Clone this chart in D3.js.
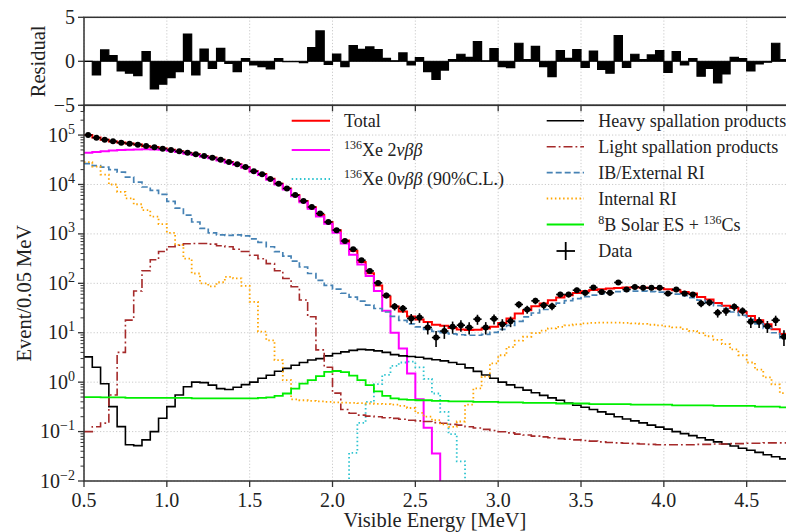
<!DOCTYPE html>
<html><head><meta charset="utf-8">
<script src="https://cdn.jsdelivr.net/npm/d3@7"></script>
<style>
body{margin:0;background:#fff}
svg{display:block}
text{font-family:"Liberation Serif","Times New Roman","DejaVu Serif",serif;fill:#222}
</style></head>
<body><svg id="c" width="786" height="532"></svg>
<script>
// ---------------- data (0.05 MeV bins starting at 0.5 MeV) ----------------
const binStart = 0.5, binWidth = 0.05, nBins = 85;
const xTicks = [0.5, 1.0, 1.5, 2.0, 2.5, 3.0, 3.5, 4.0, 4.5];
const yDecades = [-2, -1, 0, 1, 2, 3, 4, 5];
const resTicks = [-5, 0, 5];

const dataCounts = [100000, 88500, 80700, 74600, 70100, 67000, 64000, 60000, 56400, 53100,
 49800, 46800, 44100, 40700, 37700, 34900, 31800, 28400, 25600, 22500,
 18500, 16100, 12900, 10400, 8300, 6100, 4630, 3510, 2580, 1740,
 1190, 720, 490, 293, 178, 102, 57, 34, 31, 19.5,
 20.4, 12.8, 8.0, 10.8, 13.2, 14.2, 12.8, 18.8, 12.8, 19.1,
 14.9, 17.1, 37.3, 29.6, 44.2, 36.1, 34.4, 59.4, 59.4, 72.6,
 64.1, 82.2, 67.1, 64.1, 104, 75.0, 84.7, 80.9, 80.9, 80.9,
 62.4, 75.0, 62.4, 59.4, 39.1, 40.9, 25.3, 27.4, 33.4, 27.4,
 16.6, 16.6, 13.6, 17.9, 8.3];

const total = [100000, 89500, 80300, 74400, 70400, 67400, 64400, 59700, 57100, 53700,
 50200, 47000, 43400, 41000, 37400, 35100, 31500, 28500, 25800, 22400,
 18600, 16200, 13000, 10400, 8300, 6100, 4640, 3450, 2420, 1750,
 1180, 735, 455, 270, 160, 90, 54, 34, 27, 21.4,
 18.6, 16.5, 14.5, 13.8, 12.5, 11.6, 11.3, 11.5, 12.2, 13.2,
 15.8, 19.5, 24.5, 28.6, 34.4, 39.1, 45.6, 51.6, 57.5, 64.0,
 69.2, 73.6, 76.0, 78.5, 80.7, 82.2, 82.2, 82.2, 80.7, 79.6,
 76.0, 72.6, 67.1, 62.2, 53.0, 47.0, 40.0, 35.0, 31.8, 26.4,
 21.9, 17.9, 14.9, 11.8, 9.4];

const xe2nu = [44100, 45500, 47000, 48500, 49700, 50700, 51300, 51500, 51300, 50500,
 48200, 45300, 42000, 39600, 36200, 34000, 30500, 27600, 25000, 21700,
 18000, 15600, 12500, 9950, 7900, 5780, 4370, 3220, 2240, 1600,
 1060, 640, 380, 240, 140, 70, 28, 10, 4.8, 1.5,
 0.45, 0.12, 0.036, 0, 0, 0, 0, 0, 0, 0,
 0, 0, 0, 0, 0, 0, 0, 0, 0, 0,
 0, 0, 0, 0, 0, 0, 0, 0, 0, 0,
 0, 0, 0, 0, 0, 0, 0, 0, 0, 0,
 0, 0, 0, 0, 0];

const xe0nu = [0, 0, 0, 0, 0, 0, 0, 0, 0, 0,
 0, 0, 0, 0, 0, 0, 0, 0, 0, 0,
 0, 0, 0, 0, 0, 0, 0, 0, 0, 0,
 0, 0, 0.037, 0.15, 0.40, 0.91, 1.41, 2.14, 2.5, 2.6,
 2.0, 1.17, 0.59, 0.25, 0.089, 0.025, 0, 0, 0, 0,
 0, 0, 0, 0, 0, 0, 0, 0, 0, 0,
 0, 0, 0, 0, 0, 0, 0, 0, 0, 0,
 0, 0, 0, 0, 0, 0, 0, 0, 0, 0,
 0, 0, 0, 0, 0];

const heavySpall = [3.25, 2.0, 0.93, 0.32, 0.126, 0.054, 0.052, 0.068, 0.10, 0.186,
 0.32, 0.55, 0.81, 1.0, 0.98, 0.87, 0.74, 0.71, 0.79, 0.89,
 1.0, 1.2, 1.38, 1.66, 1.9, 2.2, 2.5, 2.8, 3.0, 3.4,
 3.8, 4.1, 4.4, 4.6, 4.5, 4.3, 4.0, 3.6, 3.4, 3.3,
 3.2, 3.0, 2.85, 2.7, 2.5, 2.3, 1.95, 1.65, 1.4, 1.2,
 1.0, 0.88, 0.78, 0.69, 0.61, 0.54, 0.48, 0.43, 0.38, 0.34,
 0.31, 0.28, 0.25, 0.225, 0.20, 0.18, 0.165, 0.15, 0.135, 0.123,
 0.112, 0.10, 0.091, 0.083, 0.075, 0.068, 0.062, 0.056, 0.051, 0.046,
 0.042, 0.038, 0.034, 0.031, 0.028];

const lightSpall = [0.10, 0.125, 0.148, 0.55, 4.0, 18, 70, 180, 300, 440,
 550, 590, 630, 640, 640, 620, 575, 550, 490, 440,
 370, 315, 250, 180, 125, 85, 46, 21, 4.5, 2.0,
 0.6, 0.28, 0.235, 0.215, 0.205, 0.20, 0.19, 0.185, 0.177, 0.17,
 0.165, 0.16, 0.152, 0.147, 0.14, 0.135, 0.125, 0.118, 0.111, 0.105,
 0.099, 0.094, 0.089, 0.085, 0.081, 0.078, 0.075, 0.072, 0.070, 0.068,
 0.066, 0.064, 0.062, 0.060, 0.059, 0.058, 0.057, 0.056, 0.055, 0.054,
 0.054, 0.054, 0.054, 0.054, 0.055, 0.055, 0.056, 0.056, 0.057, 0.057,
 0.058, 0.058, 0.059, 0.059, 0.059];

const ibExternal = [26300, 24000, 22400, 20000, 17800, 14100, 11200, 8900, 7600, 6300,
 4570, 3310, 2400, 1740, 1290, 1050, 955, 933, 955, 912,
 794, 676, 550, 437, 355, 282, 214, 158, 115, 91,
 76, 63, 52.5, 43.7, 36.3, 30.9, 26.3, 21.4, 17.8, 15.1,
 13.2, 11.7, 10.7, 10.0, 9.5, 9.1, 8.9, 8.9, 9.3, 10.2,
 11.7, 14.1, 17.0, 20.9, 25.1, 29.5, 34.7, 39.8, 44.7, 49.0,
 53.7, 57.5, 61.7, 64.6, 67.6, 69.2, 69.2, 69.2, 67.6, 66.1,
 63.1, 60.3, 56.2, 51.3, 45.7, 40.7, 35.5, 30.9, 26.3, 22.4,
 18.6, 15.1, 12.3, 10.0, 7.9];

const internalRI = [28200, 22900, 15800, 10000, 7080, 5250, 3980, 3020, 2240, 1580,
 1050, 600, 316, 158, 100, 87, 105, 135, 126, 89,
 42, 10.5, 7.0, 2.8, 1.1, 0.45, 0.43, 0.42, 0.41, 0.40,
 0.39, 0.385, 0.38, 0.375, 0.37, 0.365, 0.36, 0.35, 0.33, 0.30,
 0.24, 0.20, 0.17, 0.14, 0.125, 0.16, 0.35, 0.75, 1.3, 2.4,
 3.5, 5.1, 6.9, 8.3, 9.8, 11.0, 12.3, 13.2, 14.1, 14.8,
 15.5, 15.8, 16.0, 16.0, 16.0, 15.8, 15.5, 15.1, 14.5, 14.1,
 13.5, 12.8, 11.8, 10.9, 9.8, 8.5, 7.2, 5.9, 4.6, 3.5,
 2.5, 1.8, 1.25, 0.9, 0.6];

const b8Solar = [0.50, 0.50, 0.49, 0.49, 0.49, 0.48, 0.48, 0.48, 0.48, 0.48,
 0.48, 0.48, 0.48, 0.47, 0.47, 0.47, 0.47, 0.47, 0.47, 0.47,
 0.47, 0.48, 0.49, 0.53, 0.59, 0.74, 0.93, 1.10, 1.32, 1.62,
 1.68, 1.60, 1.36, 1.10, 0.87, 0.65, 0.53, 0.47, 0.45, 0.44,
 0.43, 0.43, 0.42, 0.42, 0.41, 0.41, 0.41, 0.40, 0.40, 0.40,
 0.39, 0.39, 0.39, 0.38, 0.38, 0.38, 0.38, 0.37, 0.37, 0.37,
 0.37, 0.36, 0.36, 0.36, 0.36, 0.36, 0.35, 0.35, 0.35, 0.35,
 0.35, 0.34, 0.34, 0.34, 0.34, 0.34, 0.33, 0.33, 0.33, 0.33,
 0.33, 0.32, 0.32, 0.32, 0.31];

const residual = [0.0, -1.55, 1.29, 0.64, -1.1, -1.36, -1.63, 1.1, -3.14, -2.6,
 -1.86, -1.17, 3.1, -1.55, 1.4, -0.8, 1.48, -0.23, -1.17, 0.3,
 -0.42, -0.6, -0.87, 0.3, -0.05, -0.05, -0.15, 1.55, 3.45, -0.35,
 0.83, -0.6, 1.78, 1.36, 1.63, 1.33, 0.34, 0.05, 0.95, -0.42,
 0.42, -1.17, -2.05, -1.0, 0.19, 0.8, 0.45, 2.23, 0.05, 1.44,
 -0.6, -0.72, 2.05, 0.2, 1.7, -0.6, -1.74, 1.21, 0.34, 1.33,
 -0.68, 1.17, -0.91, -1.36, 2.92, -0.68, 0.8, 0.19, 0.72, 1.21,
 -1.25, 1.1, -0.42, 0.3, -1.7, -0.8, -2.46, -1.44, 0.45, 0.3,
 -1.1, -0.3, -0.1, 2.05, 0.19];

// ---------------- layout ----------------
const svg = d3.select('#c');
const L = 84, R = 788.1, rTop = 17.3, rBot = 105.3, mBot = 481;
const edges = d3.range(nBins + 1).map(i => binStart + binWidth * i);
const centers = d3.range(nBins).map(i => binStart + binWidth * (i + 0.5));

const x = d3.scaleLinear().domain([0.5, 4.75]).range([L, R]);
const y = d3.scaleLog().domain([1e-2, 4e5]).range([mBot, rBot]).clamp(true);
const yR = d3.scaleLinear().domain([-5, 5]).range([rBot, rTop]);

const defs = svg.append('defs');
defs.append('clipPath').attr('id', 'cm').append('rect')
  .attr('x', L).attr('y', rBot).attr('width', R - L).attr('height', mBot - rBot);
defs.append('clipPath').attr('id', 'cr').append('rect')
  .attr('x', L).attr('y', rTop).attr('width', R - L).attr('height', rBot - rTop);

const gridStyle = s => s.attr('stroke', '#c4c4c4').attr('stroke-width', 0.9).attr('stroke-dasharray', '1.2,2');

// ---------- residual panel ----------
const gr = svg.append('g');
xTicks.forEach(t => gr.append('line').attr('x1', x(t)).attr('x2', x(t)).attr('y1', rTop).attr('y2', rBot).call(gridStyle));
resTicks.forEach(t => gr.append('line').attr('x1', L).attr('x2', R).attr('y1', yR(t)).attr('y2', yR(t)).call(gridStyle));

const resPts = residual.map((v, i) => [edges[i], v]);
resPts.push([edges[nBins], residual[nBins - 1]]);
const resArea = d3.area().curve(d3.curveStepAfter).x(d => x(d[0])).y0(yR(0)).y1(d => yR(d[1]));
const resLine = d3.line().curve(d3.curveStepAfter).x(d => x(d[0])).y(d => yR(d[1]));
const grc = gr.append('g').attr('clip-path', 'url(#cr)');
grc.append('path').attr('d', resArea(resPts)).attr('fill', '#000');
grc.append('path').attr('d', resLine(resPts)).attr('fill', 'none').attr('stroke', '#000').attr('stroke-width', 1.2);
grc.append('line').attr('x1', L).attr('x2', R).attr('y1', yR(0)).attr('y2', yR(0)).attr('stroke', '#000').attr('stroke-width', 1);

// ---------- main panel grid ----------
const gm = svg.append('g');
xTicks.forEach(t => gm.append('line').attr('x1', x(t)).attr('x2', x(t)).attr('y1', rBot).attr('y2', mBot).call(gridStyle));
yDecades.forEach(d => gm.append('line').attr('x1', L).attr('x2', R).attr('y1', y(Math.pow(10, d))).attr('y2', y(Math.pow(10, d))).call(gridStyle));

// ---------- step histograms ----------
const floorY = mBot + 20;
function stepPath(vals) {
  const pts = vals.map((v, i) => [x(edges[i]), v > 0 ? y(v) : floorY]);
  pts.push([x(edges[nBins]), pts[pts.length - 1][1]]);
  return d3.line().curve(d3.curveStepAfter)(pts);
}
const series = [
  {vals: total, color: '#ff0000', w: 2.0, dash: null},
  {vals: xe2nu, color: '#ff00ff', w: 2.0, dash: null},
  {vals: xe0nu, color: '#2ec4d0', w: 1.8, dash: '1.5,2.6'},
  {vals: heavySpall, color: '#000000', w: 1.6, dash: null},
  {vals: lightSpall, color: '#a52a2a', w: 1.6, dash: '9,3,1.8,3'},
  {vals: ibExternal, color: '#4682b4', w: 1.7, dash: '6,3'},
  {vals: internalRI, color: '#ffa500', w: 1.8, dash: '1.5,2.6'},
  {vals: b8Solar, color: '#00ee00', w: 1.8, dash: null}
];
const gs = gm.append('g').attr('clip-path', 'url(#cm)');
series.forEach(s => {
  const p = gs.append('path').attr('d', stepPath(s.vals)).attr('fill', 'none')
    .attr('stroke', s.color).attr('stroke-width', s.w);
  if (s.dash) p.attr('stroke-dasharray', s.dash);
});

// ---------- data points ----------
const gd = gs.append('g');
dataCounts.forEach((v, i) => {
  const e = Math.sqrt(v);
  gd.append('line').attr('x1', x(centers[i])).attr('x2', x(centers[i]))
    .attr('y1', y(v + e)).attr('y2', y(Math.max(v - e, 1e-3))).attr('stroke', '#000').attr('stroke-width', 1.6);
  gd.append('line').attr('x1', x(centers[i] - binWidth / 2)).attr('x2', x(centers[i] + binWidth / 2))
    .attr('y1', y(v)).attr('y2', y(v)).attr('stroke', '#000').attr('stroke-width', 1.6);
  gd.append('circle').attr('cx', x(centers[i])).attr('cy', y(v)).attr('r', 3).attr('fill', '#000');
});

// ---------- axes / spines ----------
const spine = '#333';
const ga = svg.append('g');
function box(y0, y1) {
  ga.append('rect').attr('x', L).attr('y', y0).attr('width', R - L).attr('height', y1 - y0)
    .attr('fill', 'none').attr('stroke', spine).attr('stroke-width', 1.5);
}
box(rTop, rBot); box(rBot, mBot);

const tickFont = 20;
// x ticks
xTicks.forEach(t => {
  ga.append('line').attr('x1', x(t)).attr('x2', x(t)).attr('y1', mBot).attr('y2', mBot + 6).attr('stroke', spine).attr('stroke-width', 1.3);
  ga.append('line').attr('x1', x(t)).attr('x2', x(t)).attr('y1', rBot).attr('y2', rBot + 6).attr('stroke', spine).attr('stroke-width', 1.3);
  ga.append('text').attr('x', x(t)).attr('y', 507).attr('text-anchor', 'middle').attr('font-size', tickFont).text(t.toFixed(1));
});
// residual y ticks
resTicks.forEach(t => {
  ga.append('line').attr('x1', L - 6).attr('x2', L).attr('y1', yR(t)).attr('y2', yR(t)).attr('stroke', spine).attr('stroke-width', 1.3);
  ga.append('text').attr('x', 75).attr('y', yR(t) + 6.5).attr('text-anchor', 'end').attr('font-size', tickFont)
    .text(t < 0 ? '\u2212' + Math.abs(t) : String(t));
});
// main y ticks (log)
yDecades.forEach(d => {
  const yy = y(Math.pow(10, d));
  ga.append('line').attr('x1', L - 6).attr('x2', L).attr('y1', yy).attr('y2', yy).attr('stroke', spine).attr('stroke-width', 1.3);
  const t = ga.append('text').attr('x', 75).attr('y', yy + 6.5).attr('text-anchor', 'end').attr('font-size', tickFont);
  t.append('tspan').text('10');
  t.append('tspan').attr('dy', -8).attr('font-size', 14).text(d < 0 ? '\u2212' + Math.abs(d) : String(d));
  for (let m = 2; m <= 9; m++) {
    const v = m * Math.pow(10, d);
    if (v > y.domain()[1]) continue;
    ga.append('line').attr('x1', L - 3.5).attr('x2', L).attr('y1', y(v)).attr('y2', y(v)).attr('stroke', spine).attr('stroke-width', 1);
  }
});

// axis labels
ga.append('text').attr('x', 435).attr('y', 527).attr('text-anchor', 'middle').attr('font-size', 20.5).text('Visible Energy [MeV]');
ga.append('text').attr('transform', `translate(31,${(rBot + mBot) / 2}) rotate(-90)`).attr('text-anchor', 'middle').attr('font-size', 20.5).text('Event/0.05 MeV');
ga.append('text').attr('transform', `translate(45,${(rTop + rBot) / 2}) rotate(-90)`).attr('text-anchor', 'middle').attr('font-size', 20.5).text('Residual');

// ---------- legend ----------
const gl = svg.append('g');
const legFont = 18;
function legLine(x0, x1, yy, s) {
  const l = gl.append('line').attr('x1', x0).attr('x2', x1).attr('y1', yy).attr('y2', yy)
    .attr('stroke', s.color).attr('stroke-width', s.w);
  if (s.dash) l.attr('stroke-dasharray', s.dash);
}
function legText(x0, yy, parts) {
  const t = gl.append('text').attr('x', x0).attr('y', yy + 6).attr('font-size', legFont);
  parts.forEach(p => {
    const ts = t.append('tspan').text(p.t);
    if (p.sup) ts.attr('font-size', 12).attr('dy', -7);
    if (p.after) ts.attr('dy', 7);
    if (p.it) ts.attr('font-style', 'italic');
  });
}
const leftEntries = [
  {s: series[0], y: 120.7, parts: [{t: 'Total'}]},
  {s: series[1], y: 150, parts: [{t: '136', sup: true}, {t: 'Xe 2', after: true}, {t: '\u03BD\u03B2\u03B2', it: true}]},
  {s: series[2], y: 179, parts: [{t: '136', sup: true}, {t: 'Xe 0', after: true}, {t: '\u03BD\u03B2\u03B2', it: true}, {t: ' (90%C.L.)'}]}
];
leftEntries.forEach(e => { legLine(291.7, 330, e.y, e.s); legText(344, e.y, e.parts); });
const rightEntries = [
  {s: series[3], y: 120.7, parts: [{t: 'Heavy spallation products'}]},
  {s: series[4], y: 146.7, parts: [{t: 'Light spallation products'}]},
  {s: series[5], y: 172.7, parts: [{t: 'IB/External RI'}]},
  {s: series[6], y: 198.5, parts: [{t: 'Internal RI'}]},
  {s: series[7], y: 224.5, parts: [{t: '8', sup: true}, {t: 'B Solar ES + ', after: true}, {t: '136', sup: true}, {t: 'Cs', after: true}]}
];
rightEntries.forEach(e => { legLine(546.7, 584, e.y, e.s); legText(598.3, e.y, e.parts); });
// Data legend entry (cross)
gl.append('line').attr('x1', 556.5).attr('x2', 575).attr('y1', 251).attr('y2', 251).attr('stroke', '#000').attr('stroke-width', 1.8);
gl.append('line').attr('x1', 565.7).attr('x2', 565.7).attr('y1', 242).attr('y2', 260).attr('stroke', '#000').attr('stroke-width', 1.8);
legText(598.3, 251, [{t: 'Data'}]);
</script>
</body></html>
